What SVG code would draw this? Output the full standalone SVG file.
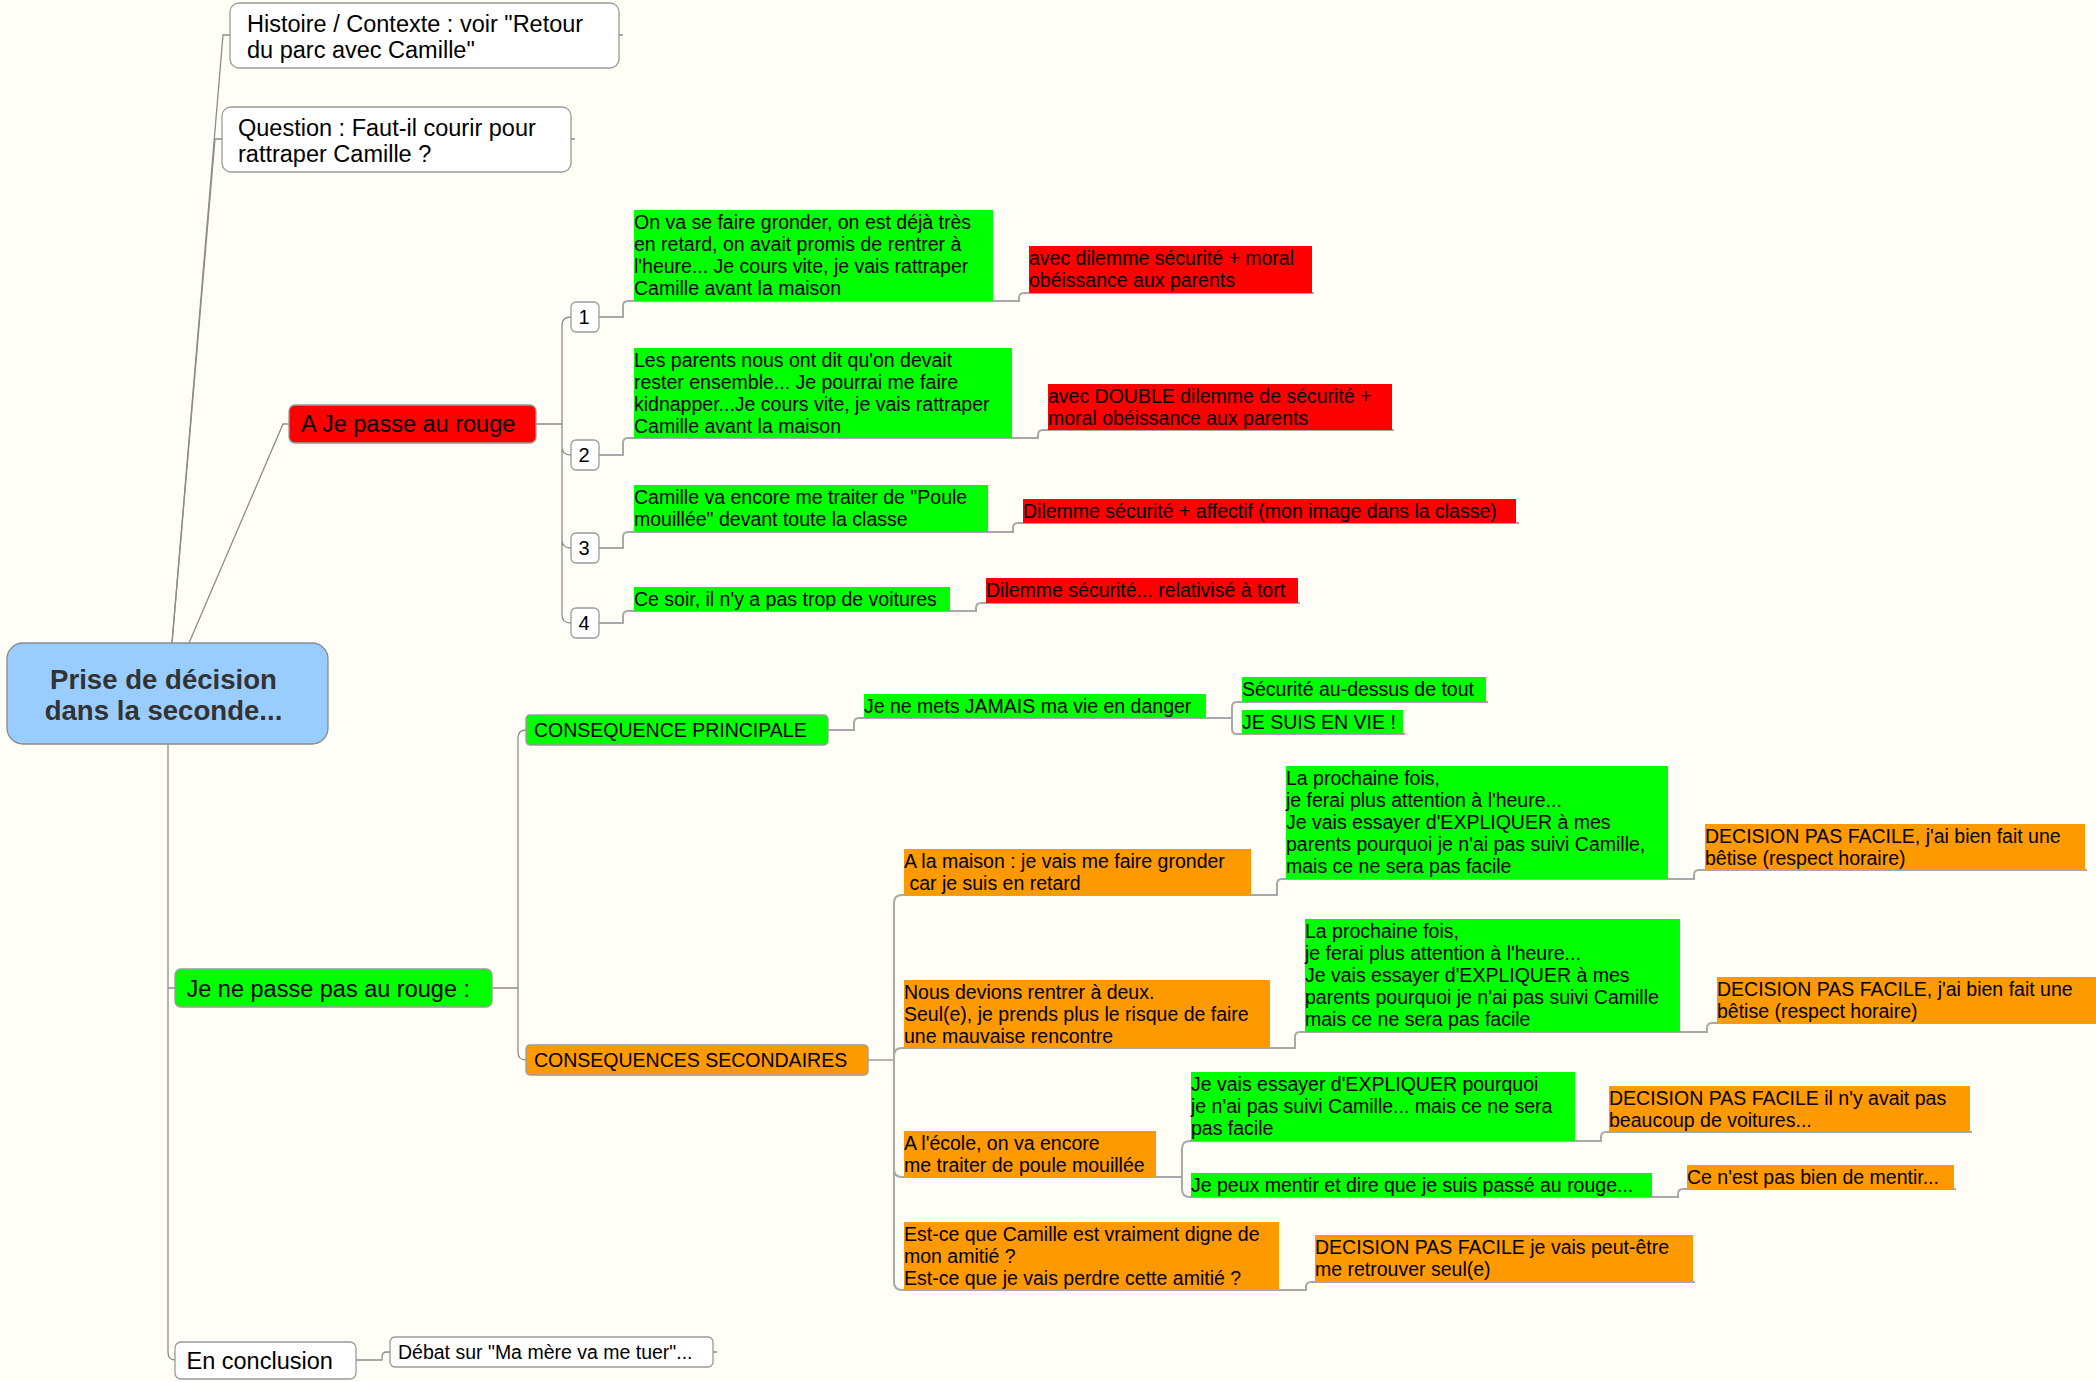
<svg xmlns="http://www.w3.org/2000/svg" width="2096" height="1382" viewBox="0 0 2096 1382">
<style>
  text { font-family: "Liberation Sans", Arial, sans-serif; fill: #000; }
  .l1 { font-size: 23.5px; }
  .lf { font-size: 19.5px; }
  .num { font-size: 20px; text-anchor: middle; }
  .root { font-size: 27.6px; font-weight: bold; fill: #333; text-anchor: middle; }
  .box { fill: #fff; stroke: #9a9a9a; stroke-width: 1.3; }
  .rootbox { fill: #99ccff; stroke: #8a8a8a; stroke-width: 1.3; }
  .g { fill: #00ff00; }
  .r { fill: #ff0000; }
  .o { fill: #ff9900; }
  .gb { fill: #00ff00; stroke: #9a9a9a; stroke-width: 1.3; }
  .rb { fill: #ff0000; stroke: #9a9a9a; stroke-width: 1.3; }
  .ob { fill: #ff9900; stroke: #9a9a9a; stroke-width: 1.3; }
  .c { fill: none; stroke: #8c8c8c; stroke-width: 1.3; }
  .u { fill: none; stroke: #a8a8a8; stroke-width: 2; }
</style>
<rect x="0" y="0" width="2096" height="1382" fill="#fffef6"/>

<g id="connectors">
  <path class="c" d="M172,643 L223,35 H230 M619,35 H623"/>
  <path class="c" d="M172,643 L215,139 H222 M571,139 H575"/>
  <path class="c" d="M189,643 L283,424 H289"/>
  <path class="c" d="M168,744 V1352 Q168,1360 175,1360 M168,988 H175"/>
  <path class="c" d="M356,1360 H382 V1357 Q382,1352 387,1352 H390 M713,1352 H717"/>
  <path class="c" d="M536,424 H562 M562,424 V325 Q562,317 571,317 M562,424 V447 Q562,455 571,455 M562,424 V540 Q562,548 571,548 M562,424 V615 Q562,623 571,623"/>
  <path class="u" d="M599,317 H623 V306 Q623,301 628,301 H1019 V298 Q1019,293 1024,293 H1314"/>
  <path class="u" d="M599,455 H623 V443 Q623,438 628,438 H1038 V435 Q1038,430 1043,430 H1394"/>
  <path class="u" d="M599,548 H623 V537 Q623,532 628,532 H1013 V528 Q1013,523 1018,523 H1519"/>
  <path class="u" d="M599,623 H623 V616 Q623,611 628,611 H976 V608 Q976,603 981,603 H1300"/>
  <path class="c" d="M492,988 H518 M518,988 V738 Q518,730 526,730 M518,988 V1052 Q518,1060 526,1060"/>
  <path class="u" d="M828,730 H854 V723 Q854,718 859,718 H1232"/>
  <path class="u" d="M1232,718 V707 Q1232,702 1237,702 H1488 M1232,718 V729 Q1232,734 1237,734 H1405"/>
  <path class="c" d="M868,1060 H894"/>
  <path class="u" d="M894,1060 V903 Q894,895 902,895 H1277 V884 Q1277,879 1282,879 H1694 V875 Q1694,870 1699,870 H2087"/>
  <path class="u" d="M894,1060 V1056 Q894,1048 902,1048 H1295 V1037 Q1295,1032 1300,1032 H1707 V1028 Q1707,1023 1712,1023 H2096"/>
  <path class="u" d="M894,1060 V1169 Q894,1177 902,1177 H1182"/>
  <path class="u" d="M1182,1177 V1149 Q1182,1141 1190,1141 H1601 V1137 Q1601,1132 1606,1132 H1972"/>
  <path class="u" d="M1182,1177 V1189 Q1182,1197 1190,1197 H1678 V1194 Q1678,1189 1683,1189 H1956"/>
  <path class="u" d="M894,1060 V1282 Q894,1290 902,1290 H1306 V1287 Q1306,1282 1311,1282 H1695"/>
</g>

<g id="root">
  <rect class="rootbox" x="7" y="643" width="321" height="101" rx="16"/>
  <text class="root" x="163.5" y="689">Prise de décision</text>
  <text class="root" x="163.5" y="720">dans la seconde...</text>
</g>

<g id="n-histoire">
  <rect class="box" x="230" y="3" width="389" height="65" rx="9"/>
  <text class="l1" x="247" y="32">Histoire / Contexte : voir "Retour</text>
  <text class="l1" x="247" y="58">du parc avec Camille"</text>
</g>
<g id="n-question">
  <rect class="box" x="222" y="107" width="349" height="65" rx="9"/>
  <text class="l1" x="238" y="136">Question : Faut-il courir pour</text>
  <text class="l1" x="238" y="162">rattraper Camille ?</text>
</g>
<g id="n-rouge">
  <rect class="rb" x="289" y="405" width="247" height="38" rx="6"/>
  <text class="l1" x="301" y="432">A Je passe au rouge</text>
</g>

<g id="n-1"><rect class="box" x="571" y="302" width="28" height="30" rx="5"/><text class="num" x="584" y="324">1</text></g>
<g id="n-2"><rect class="box" x="571" y="440" width="28" height="30" rx="5"/><text class="num" x="584" y="462">2</text></g>
<g id="n-3"><rect class="box" x="571" y="533" width="28" height="30" rx="5"/><text class="num" x="584" y="555">3</text></g>
<g id="n-4"><rect class="box" x="571" y="608" width="28" height="30" rx="5"/><text class="num" x="584" y="630">4</text></g>

<g id="n-1a">
  <rect class="g" x="634" y="210" width="359" height="91"/>
  <text class="lf" x="634" y="229">On va se faire gronder, on est déjà très</text>
  <text class="lf" x="634" y="251">en retard, on avait promis de rentrer à</text>
  <text class="lf" x="634" y="273">l'heure... Je cours vite, je vais rattraper</text>
  <text class="lf" x="634" y="295">Camille avant la maison</text>
</g>
<g id="n-1b">
  <rect class="r" x="1029" y="246" width="283" height="47"/>
  <text class="lf" x="1029" y="265">avec dilemme sécurité + moral</text>
  <text class="lf" x="1029" y="287">obéissance aux parents</text>
</g>
<g id="n-2a">
  <rect class="g" x="634" y="348" width="378" height="90"/>
  <text class="lf" x="634" y="367">Les parents nous ont dit qu'on devait</text>
  <text class="lf" x="634" y="389">rester ensemble... Je pourrai me faire</text>
  <text class="lf" x="634" y="411">kidnapper...Je cours vite, je vais rattraper</text>
  <text class="lf" x="634" y="433">Camille avant la maison</text>
</g>
<g id="n-2b">
  <rect class="r" x="1048" y="384" width="344" height="46"/>
  <text class="lf" x="1048" y="403">avec DOUBLE dilemme de sécurité +</text>
  <text class="lf" x="1048" y="425">moral obéissance aux parents</text>
</g>
<g id="n-3a">
  <rect class="g" x="634" y="485" width="354" height="47"/>
  <text class="lf" x="634" y="504">Camille va encore me traiter de "Poule</text>
  <text class="lf" x="634" y="526">mouillée" devant toute la classe</text>
</g>
<g id="n-3b">
  <rect class="r" x="1023" y="499" width="493" height="24"/>
  <text class="lf" x="1023" y="518">Dilemme sécurité + affectif (mon image dans la classe)</text>
</g>
<g id="n-4a">
  <rect class="g" x="634" y="587" width="316" height="24"/>
  <text class="lf" x="634" y="606">Ce soir, il n'y a pas trop de voitures</text>
</g>
<g id="n-4b">
  <rect class="r" x="986" y="578" width="312" height="25"/>
  <text class="lf" x="986" y="597">Dilemme sécurité... relativisé à tort</text>
</g>

<g id="n-pas-rouge">
  <rect class="gb" x="175" y="969" width="317" height="38" rx="6"/>
  <text class="l1" x="186.5" y="997">Je ne passe pas au rouge :</text>
</g>
<g id="n-cons-princ">
  <rect class="gb" x="526" y="715" width="302" height="30" rx="4"/>
  <text class="lf" x="534" y="737">CONSEQUENCE PRINCIPALE</text>
</g>
<g id="n-jamais">
  <rect class="g" x="864" y="694" width="342" height="24"/>
  <text class="lf" x="864" y="713">Je ne mets JAMAIS ma vie en danger</text>
</g>
<g id="n-securite">
  <rect class="g" x="1242" y="677" width="244" height="25"/>
  <text class="lf" x="1242" y="696">Sécurité au-dessus de tout</text>
</g>
<g id="n-vie">
  <rect class="g" x="1242" y="710" width="161" height="24"/>
  <text class="lf" x="1242" y="729">JE SUIS EN VIE !</text>
</g>
<g id="n-cons-sec">
  <rect class="ob" x="526" y="1045" width="342" height="30" rx="4"/>
  <text class="lf" x="534" y="1067">CONSEQUENCES SECONDAIRES</text>
</g>

<g id="n-maison">
  <rect class="o" x="904" y="849" width="347" height="46"/>
  <text class="lf" x="904" y="868">A la maison : je vais me faire gronder</text>
  <text class="lf" x="904" y="890" xml:space="preserve"> car je suis en retard</text>
</g>
<g id="n-maison-a">
  <rect class="g" x="1286" y="766" width="382" height="113"/>
  <text class="lf" x="1286" y="785">La prochaine fois,</text>
  <text class="lf" x="1286" y="807">je ferai plus attention à l'heure...</text>
  <text class="lf" x="1286" y="829">Je vais essayer d'EXPLIQUER à mes</text>
  <text class="lf" x="1286" y="851">parents pourquoi je n'ai pas suivi Camille,</text>
  <text class="lf" x="1286" y="873">mais ce ne sera pas facile</text>
</g>
<g id="n-maison-b">
  <rect class="o" x="1705" y="824" width="380" height="46"/>
  <text class="lf" x="1705" y="843">DECISION PAS FACILE, j'ai bien fait une</text>
  <text class="lf" x="1705" y="865">bêtise (respect horaire)</text>
</g>

<g id="n-deux">
  <rect class="o" x="904" y="980" width="366" height="68"/>
  <text class="lf" x="904" y="999">Nous devions rentrer à deux.</text>
  <text class="lf" x="904" y="1021">Seul(e), je prends plus le risque de faire</text>
  <text class="lf" x="904" y="1043">une mauvaise rencontre</text>
</g>
<g id="n-deux-a">
  <rect class="g" x="1305" y="919" width="375" height="113"/>
  <text class="lf" x="1305" y="938">La prochaine fois,</text>
  <text class="lf" x="1305" y="960">je ferai plus attention à l'heure...</text>
  <text class="lf" x="1305" y="982">Je vais essayer d'EXPLIQUER à mes</text>
  <text class="lf" x="1305" y="1004">parents pourquoi je n'ai pas suivi Camille</text>
  <text class="lf" x="1305" y="1026">mais ce ne sera pas facile</text>
</g>
<g id="n-deux-b">
  <rect class="o" x="1717" y="977" width="379" height="46"/>
  <text class="lf" x="1717" y="996">DECISION PAS FACILE, j'ai bien fait une</text>
  <text class="lf" x="1717" y="1018">bêtise (respect horaire)</text>
</g>

<g id="n-ecole">
  <rect class="o" x="904" y="1131" width="252" height="46"/>
  <text class="lf" x="904" y="1150">A l'école, on va encore</text>
  <text class="lf" x="904" y="1172">me traiter de poule mouillée</text>
</g>
<g id="n-ecole-a">
  <rect class="g" x="1191" y="1072" width="384" height="69"/>
  <text class="lf" x="1191" y="1091">Je vais essayer d'EXPLIQUER pourquoi</text>
  <text class="lf" x="1191" y="1113">je n'ai pas suivi Camille... mais ce ne sera</text>
  <text class="lf" x="1191" y="1135">pas facile</text>
</g>
<g id="n-ecole-a2">
  <rect class="o" x="1609" y="1086" width="361" height="46"/>
  <text class="lf" x="1609" y="1105">DECISION PAS FACILE il n'y avait pas</text>
  <text class="lf" x="1609" y="1127">beaucoup de voitures...</text>
</g>
<g id="n-ecole-b">
  <rect class="g" x="1191" y="1173" width="461" height="24"/>
  <text class="lf" x="1191" y="1192">Je peux mentir et dire que je suis passé au rouge...</text>
</g>
<g id="n-ecole-b2">
  <rect class="o" x="1687" y="1165" width="267" height="24"/>
  <text class="lf" x="1687" y="1184">Ce n'est pas bien de mentir...</text>
</g>

<g id="n-amitie">
  <rect class="o" x="904" y="1222" width="375" height="68"/>
  <text class="lf" x="904" y="1241">Est-ce que Camille est vraiment digne de</text>
  <text class="lf" x="904" y="1263">mon amitié ?</text>
  <text class="lf" x="904" y="1285">Est-ce que je vais perdre cette amitié ?</text>
</g>
<g id="n-amitie-b">
  <rect class="o" x="1315" y="1235" width="378" height="47"/>
  <text class="lf" x="1315" y="1254">DECISION PAS FACILE je vais peut-être</text>
  <text class="lf" x="1315" y="1276">me retrouver seul(e)</text>
</g>

<g id="n-conclusion">
  <rect class="box" x="175" y="1342" width="181" height="37" rx="6"/>
  <text class="l1" x="186.5" y="1369">En conclusion</text>
</g>
<g id="n-debat">
  <rect class="box" x="390" y="1337" width="323" height="30" rx="5"/>
  <text class="lf" x="398" y="1359">Débat sur "Ma mère va me tuer"...</text>
</g>
</svg>
